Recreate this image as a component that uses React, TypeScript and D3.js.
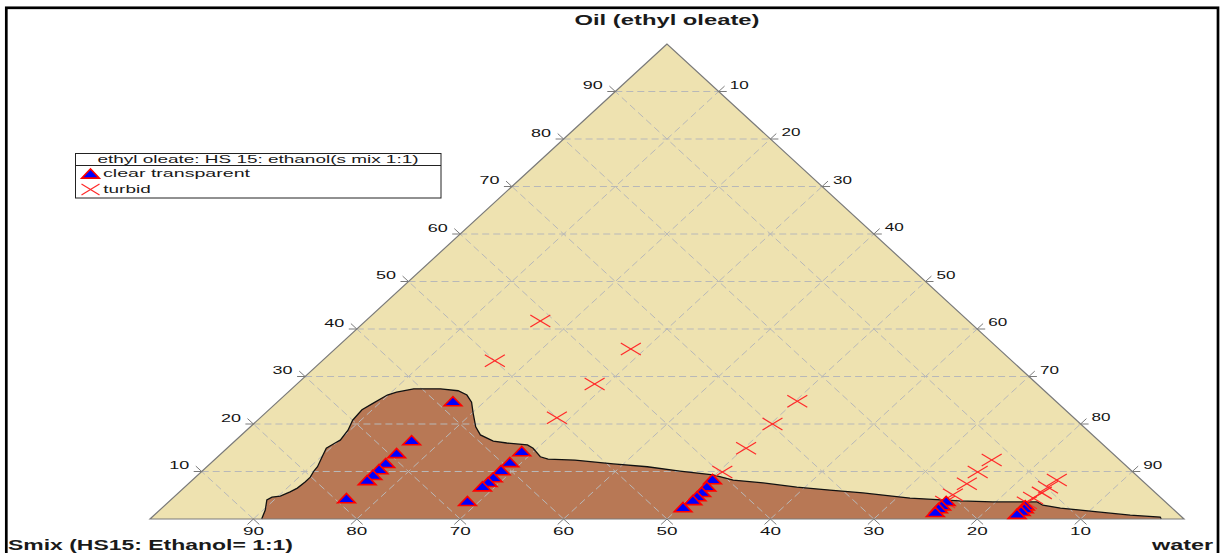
import React from 'react';
import * as d3 from 'd3';

// ---- data (ternary compositions in %, smix = 100 - oil - water) ----
const clearOil = [24.8, 16.6, 13.9, 11.8, 10.5, 9.3, 8.2, 4.4,
  14.3, 12.0, 10.3, 8.8, 7.8, 6.9, 3.8,
  8.4, 6.9, 5.7, 4.8, 4.0, 2.5,
  3.8, 2.9, 2.3, 1.5,
  2.9, 2.3, 1.7, 1.1];
const clearWater = [16.9, 17.0, 16.9, 16.9, 16.9, 16.9, 16.9, 16.8,
  28.8, 28.8, 28.8, 28.8, 28.8, 28.7, 28.8,
  50.2, 50.4, 50.5, 50.5, 50.5, 50.3,
  75.1, 75.1, 75.1, 75.2,
  83.2, 83.4, 83.4, 83.3];

const turbidOil = [41.7, 33.3, 35.8, 28.4, 21.3, 24.8, 20.0, 14.9, 9.9,
  12.4, 9.9, 7.4, 5.1, 3.6, 8.2, 6.7, 5.5, 4.4, 3.4];
const turbidWater = [16.9, 16.7, 28.6, 28.8, 28.7, 50.2, 50.2, 50.2, 50.4,
  75.2, 75.1, 75.3, 75.1, 75.1, 83.6, 83.5, 83.5, 83.2, 83.1];

const boundaryOil = [0, 1.9, 4.0, 4.6, 4.8, 5.7, 6.5, 7.8, 8.8, 10.1, 11.0, 13.1, 14.9, 16.0, 16.6,
  18.7, 20.8, 23.0, 24.4, 26.1, 26.7, 27.4, 27.4, 27.0, 26.1, 24.6, 22.3, 19.4, 17.7, 16.4,
  16.0, 15.6, 14.9, 13.1, 12.6, 12.4, 11.6, 11.0, 10.1, 9.3, 8.2, 7.6, 6.7, 6.1, 5.5,
  4.4, 3.8, 3.6, 3.6, 2.9, 2.3, 1.5, 0.8, 0.4, 0];
const boundaryWater = [10.8, 10.2, 9.3, 9.5, 10.2, 10.7, 11.0, 11.1, 11.1, 10.8, 10.7, 10.1, 9.6, 9.9, 10.1,
  9.8, 9.2, 9.0, 9.4, 9.9, 10.5, 11.8, 14.4, 16.3, 17.6, 18.8, 20.1, 21.8, 23.1, 25.0,
  26.5, 28.7, 29.6, 31.2, 32.2, 34.9, 39.0, 42.6, 46.2, 49.8, 52.3, 55.5, 59.2, 62.7, 66.2,
  71.3, 76.4, 79.7, 84.0, 84.9, 86.9, 90.9, 94.4, 97.5, 97.8];

const gridValues = [10, 20, 30, 40, 50, 60, 70, 80, 90];

const titleOil = 'Oil (ethyl oleate)';
const titleSmix = 'Smix (HS15: Ethanol= 1:1)';
const titleWater = 'water';
const legendTitle = 'ethyl oleate: HS 15: ethanol(s mix 1:1)';
const legendClear = 'clear transparent';
const legendTurbid = 'turbid';

// ---- layout ----
const W = 1220, H = 553;
const LEFT = 150, RIGHT = 1184, BASE = 519, APEX_X = 667, APEX_Y = 44;
const FONT = "'Liberation Sans', Arial, Helvetica, sans-serif";

const yOil = d3.scaleLinear().domain([0, 100]).range([BASE, APEX_Y]);
const xOil = d3.scaleLinear().domain([0, 100]).range([0, APEX_X - LEFT]);
const xWater = d3.scaleLinear().domain([0, 100]).range([0, RIGHT - LEFT]);
const project = (o: number, w: number): [number, number] => [LEFT + xOil(o) + xWater(w), yOil(o)];

function triPath(cx: number, cy: number, hw = 8.8, hh = 4.6) {
  return `M${cx - hw},${cy + hh}L${cx + hw},${cy + hh}L${cx},${cy - hh}Z`;
}

function Cross({ cx, cy, hw = 10, hh = 6 }: { cx: number; cy: number; hw?: number; hh?: number }) {
  return (
    <g stroke="#ff2a2a" strokeWidth={1.2}>
      <line x1={cx - hw} y1={cy - hh} x2={cx + hw} y2={cy + hh} />
      <line x1={cx - hw} y1={cy + hh} x2={cx + hw} y2={cy - hh} />
    </g>
  );
}

export default function App() {
  const tri = [project(100, 0), project(0, 0), project(0, 100)];
  const triD = d3.line()(tri) + 'Z';

  const bpts = boundaryOil.map((o, i) => project(o, boundaryWater[i]));
  const regionD = d3.line()(bpts) + 'Z';
  const curveD = d3.line()(bpts) as string;

  const grid: [[number, number], [number, number]][] = [];
  gridValues.forEach((k) => {
    grid.push([project(k, 0), project(k, 100 - k)]);
    grid.push([project(0, k), project(100 - k, k)]);
    grid.push([project(0, 100 - k), project(100 - k, 0)]);
  });
  const TL = 8;
  const ticks: { x1: number; y1: number; x2: number; y2: number }[] = [];
  grid.forEach(([p, q]) => {
    const dx = p[0] - q[0], dy = p[1] - q[1];
    const len = Math.hypot(dx, dy);
    ticks.push({ x1: p[0], y1: p[1], x2: p[0] + (TL * dx) / len, y2: p[1] + (TL * dy) / len });
    ticks.push({ x1: q[0], y1: q[1], x2: q[0] - (TL * dx) / len, y2: q[1] - (TL * dy) / len });
  });

  return (
    <svg width={W} height={H} style={{ position: 'absolute', left: 0, top: 0, display: 'block', background: '#fff' }}>
      <rect x={0} y={0} width={W} height={H} fill="#fff" />
      <path d={triD} fill="#eee2b0" />
      <path d={regionD} fill="#b87855" />
      <g stroke="#b8b8b8" strokeWidth={1} strokeDasharray="7,4" fill="none">
        {grid.map(([p, q], i) => (
          <line key={i} x1={p[0]} y1={p[1]} x2={q[0]} y2={q[1]} />
        ))}
      </g>
      <path d={curveD} fill="none" stroke="#111" strokeWidth={1.3} />
      <path d={triD} fill="none" stroke="#7a7a7a" strokeWidth={1.2} />
      <g stroke="#7a7a7a" strokeWidth={1}>
        {ticks.map((t, i) => (
          <line key={i} x1={t.x1} y1={t.y1} x2={t.x2} y2={t.y2} />
        ))}
      </g>
      <g fontFamily={FONT} fontSize={11.5} fill="#141414">
        {gridValues.map((k) => {
          const [x, y] = project(0, k);
          return (
            <text key={'b' + k} x={x} y={y + 16} textAnchor="middle" textLength={21} lengthAdjust="spacingAndGlyphs">
              {String(100 - k)}
            </text>
          );
        })}
        {gridValues.map((k) => {
          const [x, y] = project(k, 0);
          return (
            <text key={'l' + k} x={x - 12.5 - 20} y={y - 2.5} textLength={20} lengthAdjust="spacingAndGlyphs">
              {String(k)}
            </text>
          );
        })}
        {gridValues.map((k) => {
          const [x, y] = project(100 - k, k);
          return (
            <text key={'r' + k} x={x + 11} y={y - 3} textLength={19} lengthAdjust="spacingAndGlyphs">
              {String(k)}
            </text>
          );
        })}
      </g>
      <g>
        {turbidOil.map((o, i) => {
          const [x, y] = project(o, turbidWater[i]);
          return <Cross key={'t' + i} cx={x} cy={y} />;
        })}
      </g>
      <g fill="#0000ff" stroke="#ff0000" strokeWidth={1.6} strokeLinejoin="miter">
        {clearOil.map((o, i) => {
          const [x, y] = project(o, clearWater[i]);
          return <path key={'c' + i} d={triPath(x, y)} />;
        })}
      </g>
      <g fontFamily={FONT} fontWeight="bold" fontSize={14} fill="#1a1a1a">
        <text x={APEX_X} y={25} textAnchor="middle" textLength={185} lengthAdjust="spacingAndGlyphs">{titleOil}</text>
        <text x={8} y={550} textLength={285} lengthAdjust="spacingAndGlyphs">{titleSmix}</text>
        <text x={1152} y={550} textLength={61} lengthAdjust="spacingAndGlyphs">{titleWater}</text>
      </g>
      <g fontFamily={FONT} fontSize={11} fill="#1a1a1a">
        <rect x={75.5} y={153.5} width={365.5} height={44.5} fill="#fff" stroke="#222" strokeWidth={1} />
        <line x1={75.5} y1={165.5} x2={441} y2={165.5} stroke="#222" strokeWidth={1} />
        <text x={258} y={162.5} textAnchor="middle" textLength={321} lengthAdjust="spacingAndGlyphs">{legendTitle}</text>
        <path d={triPath(90.5, 173.5)} fill="#0000ff" stroke="#ff0000" strokeWidth={1.6} />
        <text x={103} y={177.3} textLength={147} lengthAdjust="spacingAndGlyphs">{legendClear}</text>
        <Cross cx={90.5} cy={189.6} hw={9} hh={5.5} />
        <text x={103.3} y={193.3} textLength={47.4} lengthAdjust="spacingAndGlyphs">{legendTurbid}</text>
      </g>
      <rect x={6.3} y={7.8} width={1211.7} height={600} fill="none" stroke="#000" strokeWidth={2.7} />
    </svg>
  );
}
